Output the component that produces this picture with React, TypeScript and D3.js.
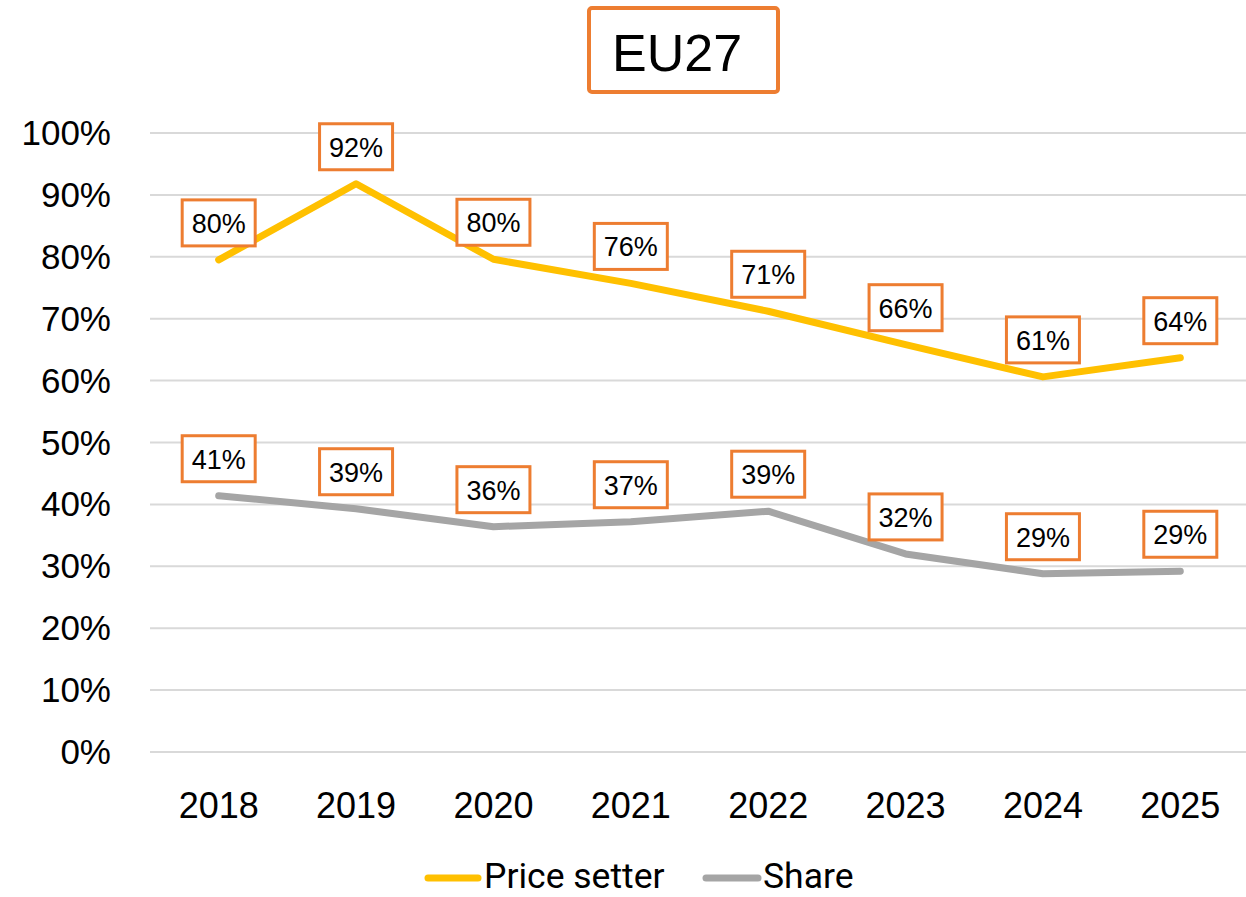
import React from "react";
import * as d3 from "d3";

const years = ["2018", "2019", "2020", "2021", "2022", "2023", "2024", "2025"];
const priceSetter = [0.795, 0.918, 0.796, 0.757, 0.712, 0.658, 0.606, 0.637];
const share = [0.414, 0.393, 0.364, 0.372, 0.389, 0.32, 0.288, 0.292];
const yTicks = [0, 0.1, 0.2, 0.3, 0.4, 0.5, 0.6, 0.7, 0.8, 0.9, 1.0];
const title = "EU27";
const seriesNames = ["Price setter", "Share"];

const W = 1246;
const H = 897;
const ORANGE = "#ED7D31";
const YELLOW = "#FFC000";
const GRAY = "#A5A5A5";
const FONT = "'Liberation Sans', Arial, sans-serif";

export default function App() {
  const x = d3.scaleBand<string>().domain(years).range([150, 1249]);
  const y = d3.scaleLinear().domain([0, 1]).range([752, 133]);
  const cx = (d: string) => (x(d) as number) + x.bandwidth() / 2;
  const line = d3
    .line<number>()
    .x((_, i) => cx(years[i]))
    .y((v) => y(v));

  const series = [
    { name: seriesNames[0], values: priceSetter, color: YELLOW },
    { name: seriesNames[1], values: share, color: GRAY },
  ];

  return (
    <svg
      width={W}
      height={H}
      style={{ position: "absolute", left: 0, top: 0, background: "#fff" }}
    >
      <rect x={0} y={0} width={W} height={H} fill="#fff" />
      {/* gridlines */}
      {yTicks.map((t) => (
        <line
          key={"g" + t}
          x1={150}
          x2={1249}
          y1={y(t)}
          y2={y(t)}
          stroke="#D9D9D9"
          strokeWidth={2}
        />
      ))}
      {/* y tick labels */}
      {yTicks.map((t) => (
        <text
          key={"t" + t}
          x={111}
          y={y(t) + 12}
          textAnchor="end"
          fontFamily={FONT}
          fontSize={35}
          fill="#000"
        >
          {Math.round(t * 100) + "%"}
        </text>
      ))}
      {/* x labels */}
      {years.map((yr) => (
        <text
          key={"x" + yr}
          x={cx(yr)}
          y={818}
          textAnchor="middle"
          fontFamily={FONT}
          fontSize={36}
          fill="#000"
        >
          {yr}
        </text>
      ))}
      {/* lines */}
      {series.map((s) => (
        <path
          key={"l" + s.name}
          d={line(s.values) || ""}
          fill="none"
          stroke={s.color}
          strokeWidth={7}
          strokeLinecap="round"
          strokeLinejoin="round"
        />
      ))}
      {/* data labels */}
      {series.map((s) =>
        s.values.map((v, i) => {
          const px = cx(years[i]);
          const py = y(v) - 37;
          return (
            <g key={"d" + s.name + i}>
              <rect
                x={px - 36.5}
                y={py - 23}
                width={73}
                height={46}
                fill="#fff"
                stroke={ORANGE}
                strokeWidth={3}
              />
              <text
                x={px}
                y={py + 10}
                textAnchor="middle"
                fontFamily={FONT}
                fontSize={27}
                fill="#000"
              >
                {Math.round(v * 100) + "%"}
              </text>
            </g>
          );
        })
      )}
      {/* title */}
      <rect
        x={589}
        y={8}
        width={189}
        height={84}
        rx={3}
        fill="#fff"
        stroke={ORANGE}
        strokeWidth={4}
      />
      <text
        x={612}
        y={71}
        fontFamily={FONT}
        fontSize={52}
        fill="#000"
      >
        {title}
      </text>
      {/* legend */}
      <line x1={428} x2={478} y1={878} y2={878} stroke={YELLOW} strokeWidth={7} strokeLinecap="round" />
      <text x={484} y={888} fontFamily="Roboto, sans-serif" fontSize={35.5} fill="#000">
        {seriesNames[0]}
      </text>
      <line x1={706} x2={758} y1={878} y2={878} stroke={GRAY} strokeWidth={7} strokeLinecap="round" />
      <text x={763} y={888} fontFamily="Roboto, sans-serif" fontSize={35.5} fill="#000">
        {seriesNames[1]}
      </text>
    </svg>
  );
}
